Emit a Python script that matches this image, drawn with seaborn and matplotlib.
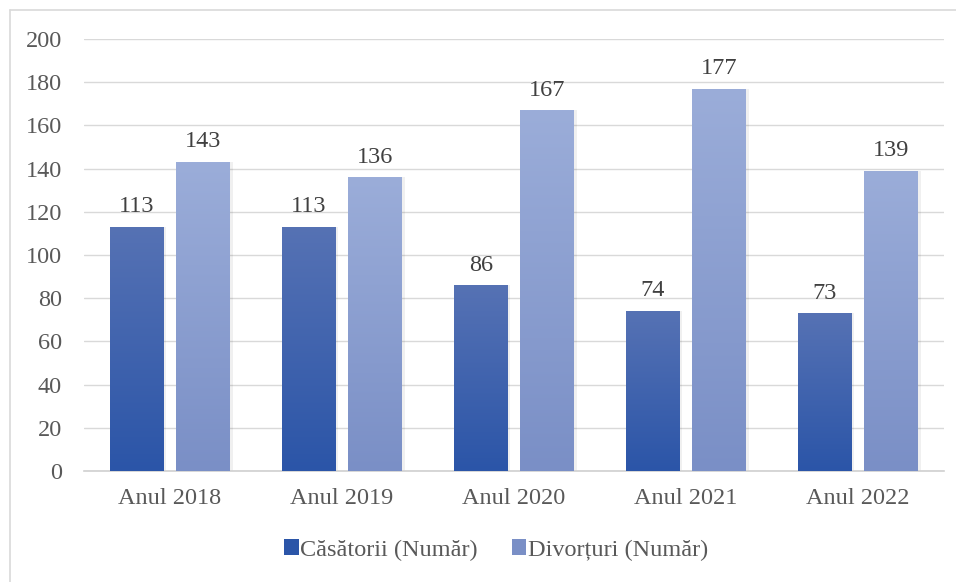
import numpy as np
import pandas as pd
import seaborn as sns
import matplotlib.pyplot as plt
from matplotlib.colors import LinearSegmentedColormap
from matplotlib.lines import Line2D
from matplotlib.patches import Patch

# date
ani = ["Anul 2018", "Anul 2019", "Anul 2020", "Anul 2021", "Anul 2022"]
casatorii = [113, 113, 86, 74, 73]
divorturi = [143, 136, 167, 177, 139]
serii = ["Căsătorii (Număr)", "Divorțuri (Număr)"]

df = pd.DataFrame({
    "an": ani * 2,
    "valoare": casatorii + divorturi,
    "serie": [serii[0]] * len(ani) + [serii[1]] * len(ani),
})

sns.set_style("white")
plt.rcParams["font.family"] = ["Liberation Serif", "DejaVu Serif"]

# gradient (sus -> jos) pentru fiecare serie
grad = {
    serii[0]: ("#5672b4", "#2b55a8"),
    serii[1]: ("#9badd9", "#7a8fc6"),
}

fig = plt.figure(figsize=(9.56, 5.82), dpi=100)
ax = fig.add_axes([84 / 956, 111 / 582, 860 / 956, 432 / 582])

sns.barplot(data=df, x="an", y="valoare", hue="serie", hue_order=serii,
            palette=[grad[s][1] for s in serii], width=0.773, gap=0.19,
            legend=False, ax=ax, zorder=3)

ax.set_ylim(0, 200)
ax.set_yticks(range(0, 201, 20))
ax.set_xlim(-0.5, 4.5)
ax.grid(axis="y", color="#d9d9d9", linewidth=1, zorder=0)
for s in ["top", "right", "left"]:
    ax.spines[s].set_visible(False)
ax.spines["bottom"].set_color("#d0d0d0")
ax.spines["bottom"].set_linewidth(1.2)
ax.set_xlabel("")
ax.set_ylabel("")
ax.tick_params(axis="both", length=0, labelsize=17.5, labelcolor="#595959")
ax.tick_params(axis="y", pad=16)
ax.tick_params(axis="x", pad=12)

# gradient pe bare + eticheta cu valoarea
for cont, s in zip(ax.containers, serii):
    cmap = LinearSegmentedColormap.from_list(s, [grad[s][1], grad[s][0]])
    for bar in cont:
        x0, w, h = bar.get_x(), bar.get_width(), bar.get_height()
        bar.set_facecolor("none")
        bar.set_edgecolor("none")
        img = ax.imshow(np.linspace(0, 1, 256).reshape(-1, 1), cmap=cmap,
                        extent=[x0, x0 + w, 0, h], origin="lower",
                        aspect="auto", zorder=3)
        img.set_clip_path(bar)
        # umbra discreta
        ax.add_patch(plt.Rectangle((x0 + w, 0), w * 0.05, h, color="#000000",
                                   alpha=0.06, zorder=2, lw=0))
        ax.text(x0 + w / 2, h + 4.5, f"{int(h)}", ha="center", va="bottom",
                fontsize=17.5, color="#404040", zorder=4)

ax.set_xlim(-0.5, 4.5)
ax.set_ylim(0, 200)

handles = [Patch(facecolor=grad[s][1], edgecolor="none") for s in serii]
fig.legend(handles, serii, loc="center", bbox_to_anchor=(496 / 956, 1 - 550 / 582),
           ncol=2, frameon=False, fontsize=17.5, labelcolor="#595959",
           handlelength=0.6, handleheight=0.6, handletextpad=0.05, columnspacing=1.4)

# chenarul graficului
fig.add_artist(Line2D([10 / 956, 10 / 956], [0, 1 - 10 / 582], color="#d9d9d9", lw=1.2))
fig.add_artist(Line2D([10 / 956, 1], [1 - 10 / 582, 1 - 10 / 582], color="#d9d9d9", lw=1.2))

fig.savefig("out.png", dpi=100)
